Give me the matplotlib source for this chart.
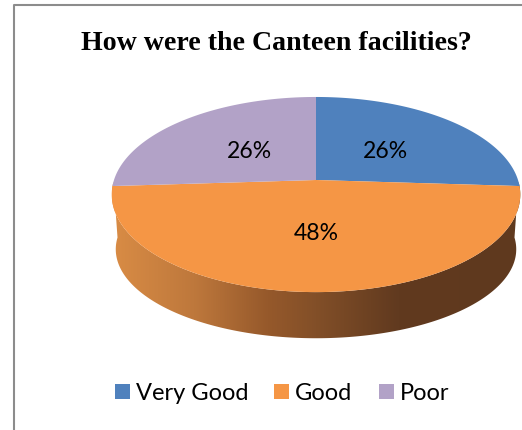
import numpy as np
import matplotlib
matplotlib.use("Agg")
import matplotlib.pyplot as plt
from matplotlib.patches import Polygon, Patch
from matplotlib.colors import LinearSegmentedColormap

categories = ["Very Good", "Good", "Poor"]
values = [26, 48, 26]
labels = ["26%", "48%", "26%"]
colors = ["#4F81BD", "#F59645", "#B2A2C7"]
title = "How were the Canteen facilities?"

W, H = 522, 430
fig = plt.figure(figsize=(W / 100, H / 100), dpi=100, facecolor="white")
ax = fig.add_axes([0, 0, 1, 1])
ax.set_xlim(0, W)
ax.set_ylim(H, 0)
ax.axis("off")

K = 0.149
CX = 316


def project(t, a=202, b=95.4, cy=180):
    X, Y = np.cos(t), np.sin(t)
    d = 1 + K * Y
    return CX + a * X / d, cy - b * Y / d


# side wall
t_front = np.linspace(np.radians(181), np.radians(359), 300)
tx, ty = project(t_front)
bx, by = project(t_front, a=198, b=87, cy=236)
side_xy = np.vstack([np.column_stack([tx, ty]), np.column_stack([bx, by])[::-1]])
clip = Polygon(side_xy, closed=True, transform=ax.transData, fc="none", ec="none")
ax.add_patch(clip)
grad_cmap = LinearSegmentedColormap.from_list(
    "side",
    [(0.0, "#D98C45"), (0.2, "#BE783C"), (0.38, "#96592B"), (0.5, "#824F28"),
     (0.7, "#613A1F"), (1.0, "#5F391E")],
)
img = ax.imshow(np.linspace(0, 1, 256)[None, :], cmap=grad_cmap, aspect="auto",
                extent=(112, 521, 342, 170), interpolation="bilinear", zorder=1)
img.set_clip_path(clip)
ax.set_xlim(0, W)
ax.set_ylim(H, 0)

# top face, clockwise from 12 o'clock
fractions = np.array(values) / sum(values)
edges = np.pi / 2 - 2 * np.pi * np.concatenate([[0], np.cumsum(fractions)])
cx0, cy0 = CX, 180
for i, col in enumerate(colors):
    t = np.linspace(edges[i], edges[i + 1], 300)
    x, y = project(t)
    ax.fill(np.r_[cx0, x], np.r_[cy0, y], color=col, lw=0, zorder=2)

# percentage labels
pos = [(385, 152), (316, 233), (249, 152)]
for (px, py), lab in zip(pos, labels):
    ax.text(px, py, lab, ha="center", va="center", fontsize=16.6, family="Lato",
            color="black", zorder=3)

ax.text(276.5, 43, title, ha="center", va="center", fontsize=20.1,
        family="Liberation Serif", weight="bold", color="black")

# frame
ax.plot([14, 14, W + 2], [H + 2, 5, 5], color="#8C8C8C", lw=1.5, zorder=4)

handles = [Patch(facecolor=c, edgecolor="none") for c in colors]
leg = ax.legend(handles, categories, loc="center", bbox_to_anchor=(282 / W, 1 - 393.5 / H),
                ncol=3, frameon=False, prop={"family": "Lato", "size": 17},
                handlelength=0.635, handleheight=0.635, handletextpad=0.25, columnspacing=1.1,
                borderpad=0, borderaxespad=0)

fig.savefig("out.png", dpi=100)
